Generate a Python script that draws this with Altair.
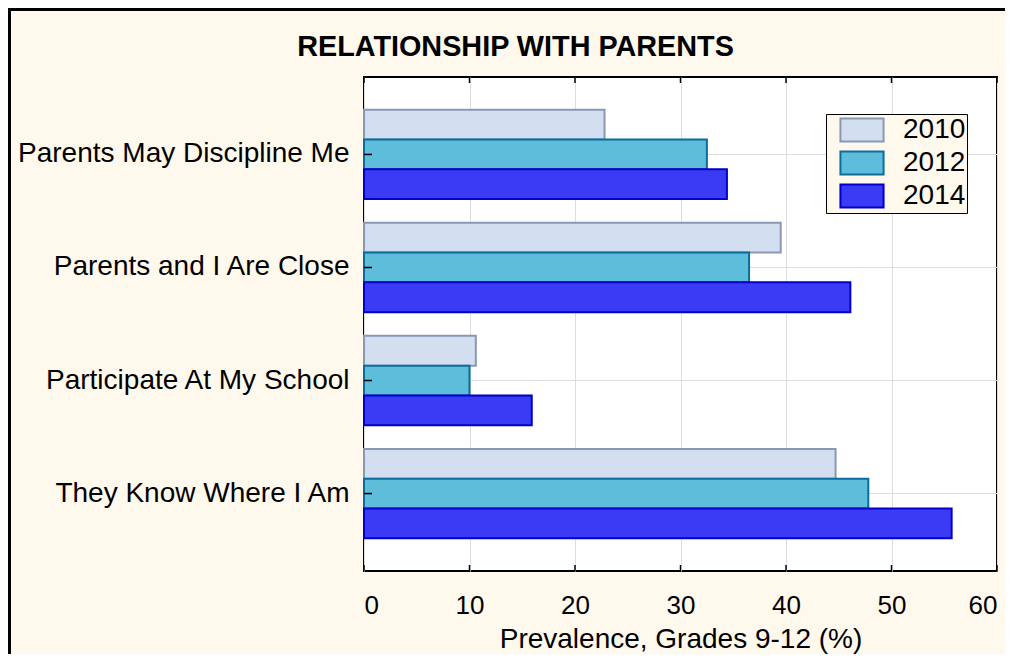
import altair as alt
import pandas as pd

categories = ["Parents May Discipline Me", "Parents and I Are Close",
              "Participate At My School", "They Know Where I Am"]
years = ["2010", "2012", "2014"]
v2010 = [22.8, 39.5, 10.6, 44.7]
v2012 = [32.5, 36.5, 10.0, 47.8]
v2014 = [34.4, 46.1, 15.9, 55.7]
x_ticks = [0, 10, 20, 30, 40, 50, 60]

fills = ["#d3dff0", "#5dbddb", "#3b3bf6"]
strokes = ["#8799b5", "#0b6d9c", "#0000c8"]

rows = []
for i, c in enumerate(categories):
    for yr, vals in zip(years, [v2010, v2012, v2014]):
        rows.append({"category": c, "year": yr, "value": vals[i]})
df = pd.DataFrame(rows)

legend = alt.Legend(
    title=None, orient="none", legendX=462, legendY=37, direction="vertical",
    symbolType="M-1.54,-0.82H1.54V0.82H-1.54Z", symbolSize=784,
    symbolStrokeWidth=2, symbolOffset=20, labelFontSize=28, labelFont="Liberation Sans",
    labelColor="black", labelOffset=26, rowPadding=1, padding=1,
    strokeColor="black", fillColor="#FFF9ED",
)

ysc = alt.Scale(paddingInner=0.21, paddingOuter=0.29)

bars = alt.Chart(df).mark_bar(strokeWidth=2).encode(
    y=alt.Y("category:N", sort=categories, scale=ysc,
            axis=alt.Axis(title=None, labelFontSize=28, labelFont="Liberation Sans",
                          labelColor="black", labelPadding=15, ticks=False, domain=False,
                          grid=True, gridColor="#dddddd", bandPosition=0.5, labelLimit=400)),
    yOffset=alt.YOffset("year:N", sort=years, scale=alt.Scale(paddingInner=0, paddingOuter=0)),
    x=alt.X("value:Q", scale=alt.Scale(domain=[0, 60], nice=False),
            axis=alt.Axis(values=x_ticks, title="Prevalence, Grades 9-12 (%)",
                          labelFont="Liberation Sans", labelFontSize=26,
                          labelColor="black", labelPadding=21, ticks=False, domain=False,
                          grid=True, gridColor="#dddddd",
                          titleFont="Liberation Sans", titleFontSize=28,
                          titleFontWeight="normal", titleColor="black",
                          titleY=76, titleBaseline="alphabetic")),
    fill=alt.Fill("year:N", sort=years, scale=alt.Scale(domain=years, range=fills), legend=legend),
    stroke=alt.Stroke("year:N", sort=years, scale=alt.Scale(domain=years, range=strokes), legend=legend),
)

tick_df = pd.DataFrame({"t": x_ticks})
bottom_ticks = alt.Chart(tick_df).mark_rule(color="black", strokeWidth=1.5).encode(
    x="t:Q", y=alt.value(488), y2=alt.value(494))
top_ticks = alt.Chart(tick_df).mark_rule(color="black", strokeWidth=1.5).encode(
    x="t:Q", y=alt.value(0), y2=alt.value(6))
cat_df = pd.DataFrame({"category": categories})
left_ticks = alt.Chart(cat_df).mark_rule(color="black", strokeWidth=1.5).encode(
    y=alt.Y("category:N", sort=categories), x=alt.value(0), x2=alt.value(8))

frame_df = pd.DataFrame({"f": [0]})
frame = alt.Chart(frame_df).mark_rect(fill=None, fillOpacity=0, stroke="black", strokeWidth=3).encode(
    x=alt.value(-354.5), x2=alt.value(700), y=alt.value(-67.5), y2=alt.value(700))

chart = alt.layer(bars, bottom_ticks, top_ticks, left_ticks, frame).properties(
    width=633, height=494,
    title=alt.TitleParams("RELATIONSHIP WITH PARENTS", font="Liberation Sans", fontSize=28.8,
                          fontWeight="bold", color="black", anchor="middle", dx=-165,
                          offset=21, dy=98, baseline="alphabetic"),
    autosize=alt.AutoSizeParams(type="none"),
    padding={"left": 356, "top": 69, "right": 8, "bottom": 83},
    background="#FFF9ED",
).configure_view(stroke="black", strokeWidth=2, fill="white")

chart.save("out.html", embed_options={"renderer": "svg", "actions": False})
